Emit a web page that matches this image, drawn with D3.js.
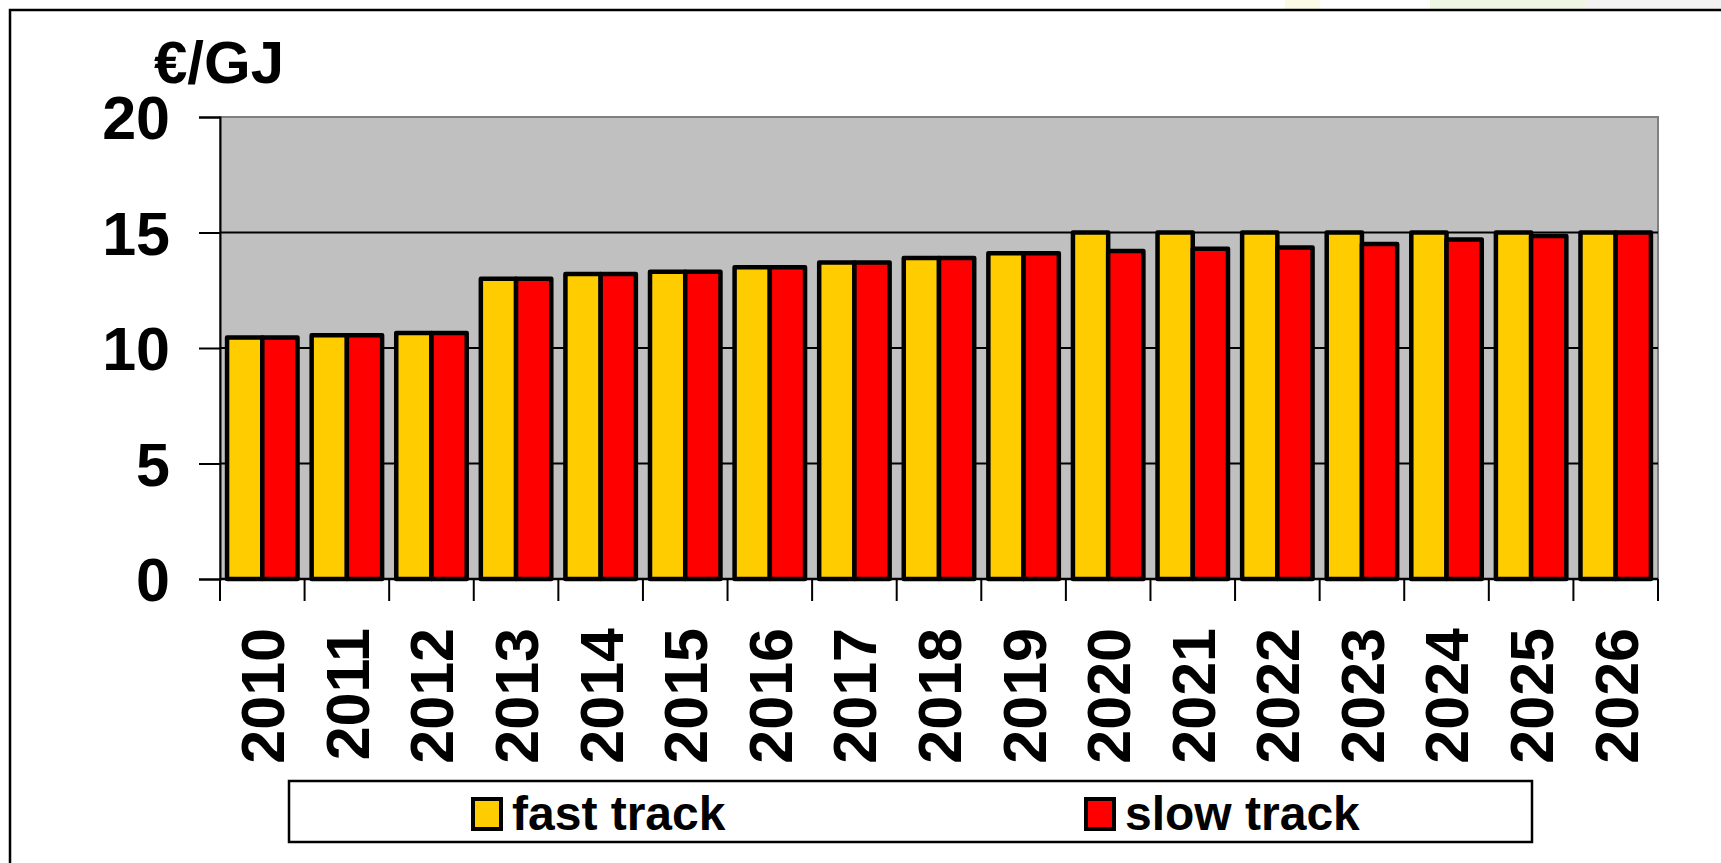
<!DOCTYPE html>
<html>
<head>
<meta charset="utf-8">
<script src="https://cdn.jsdelivr.net/npm/d3@7"></script>
<style>
  body { margin: 0; background: #fff; }
  text { font-family: "Liberation Sans", Arial, sans-serif; font-weight: bold; fill: #000; }
</style>
</head>
<body>
<script>
var years     = ['2010','2011','2012','2013','2014','2015','2016','2017','2018',
                 '2019','2020','2021','2022','2023','2024','2025','2026'];
var fastTrack = [10.45,10.55,10.65,13.0,13.2,13.3,13.5,13.7,13.9,14.1,15,15,15,15,15,15,15];
var slowTrack = [10.45,10.55,10.65,13.0,13.2,13.3,13.5,13.7,13.9,14.1,14.2,14.3,14.35,14.5,14.7,14.85,15];
var yTicks    = [0,5,10,15,20];
var seriesNames  = ['fast track','slow track'];
var seriesColors = ['#FFCC00','#FF0000'];

var svg = d3.select('body').append('svg')
            .attr('width',1721)
            .attr('height',863);

// plot area box (window.top is reserved, so prefixed names)
var plotLeft = 220, plotRight = 1658, plotTop = 117, plotBottom = 579;

var x = d3.scaleBand().domain(years).range([plotLeft,plotRight])
          .paddingInner(0.167).paddingOuter(0.0835);
var xSub = d3.scaleBand().domain(seriesNames).range([0,x.bandwidth()]);
var y = d3.scaleLinear().domain([0,20]).range([plotBottom,plotTop]);

render(svg);

///////////////////////////////////////////////////////////////////////////////
///////////////////////////      Visualization      ///////////////////////////
///////////////////////////////////////////////////////////////////////////////

function drawFrame(svg){
  // faint slide background peeking above the frame
  svg.append('rect').attr('x',1285).attr('y',0).attr('width',35).attr('height',9).attr('fill','#fafae6');
  svg.append('rect').attr('x',1430).attr('y',0).attr('width',155).attr('height',9).attr('fill','#eef5e2');
  svg.append('rect').attr('x',1585).attr('y',0).attr('width',136).attr('height',9).attr('fill','#f2f2f2');

  svg.append('rect')
     .attr('x',10).attr('y',10)
     .attr('width',1760).attr('height',900)
     .attr('fill','#fff')
     .attr('stroke','#000')
     .attr('stroke-width',2.5);
}

function drawPlotArea(svg){
  svg.append('rect')
     .attr('x',plotLeft).attr('y',plotTop)
     .attr('width',plotRight-plotLeft).attr('height',plotBottom-plotTop)
     .attr('fill','#C0C0C0')
     .attr('stroke','#808080')
     .attr('stroke-width',2);

  svg.selectAll('line.grid').data(yTicks.filter(function(d){return d>0 && d<20}))
     .enter().append('line')
     .attr('class','grid')
     .attr('x1',plotLeft).attr('x2',plotRight)
     .attr('y1',function(d){return y(d)})
     .attr('y2',function(d){return y(d)})
     .attr('stroke','#000')
     .attr('stroke-width',2);
}

function drawBars(svg){
  var groups = svg.selectAll('g.year').data(years)
                  .enter().append('g')
                  .attr('class','year')
                  .attr('transform',function(d){return 'translate('+x(d)+',0)'});

  groups.selectAll('rect')
        .data(function(d,i){return [fastTrack[i],slowTrack[i]]})
        .enter().append('rect')
        .attr('x',function(d,j){return xSub(seriesNames[j])})
        .attr('width',xSub.bandwidth())
        .attr('y',function(d){return y(d)})
        .attr('height',function(d){return y(0)-y(d)})
        .attr('fill',function(d,j){return seriesColors[j]})
        .attr('stroke','#000')
        .attr('stroke-width',4.5)
        .attr('stroke-linejoin','round');
}

function drawAxes(svg){
  var yAxis = d3.axisLeft(y).tickValues(yTicks).tickSize(21).tickPadding(30);
  var gy = svg.append('g').attr('transform','translate('+plotLeft+',0)').call(yAxis);
  gy.select('.domain').attr('stroke','#000').attr('stroke-width',2);
  gy.selectAll('.tick line').attr('stroke','#000').attr('stroke-width',2);
  gy.selectAll('.tick text')
    .attr('font-family',null).attr('font-size',null)
    .style('font-size','61px')
    .attr('dy','0.36em')
    .attr('x',-50);

  // x axis line and ticks between categories
  svg.append('line')
     .attr('x1',plotLeft).attr('x2',plotRight)
     .attr('y1',plotBottom).attr('y2',plotBottom)
     .attr('stroke','#000').attr('stroke-width',2.5);

  var bounds = d3.range(years.length+1).map(function(i){return plotLeft + i*x.step()});
  svg.selectAll('line.xtick').data(bounds)
     .enter().append('line')
     .attr('class','xtick')
     .attr('x1',function(d){return d}).attr('x2',function(d){return d})
     .attr('y1',plotBottom).attr('y2',plotBottom+22)
     .attr('stroke','#000').attr('stroke-width',2);

  svg.selectAll('text.xlab').data(years)
     .enter().append('text')
     .attr('class','xlab')
     .attr('transform',function(d){return 'translate('+(x(d)+x.bandwidth()/2)+',628) rotate(-90)'})
     .attr('text-anchor','end')
     .attr('dy','0.36em')
     .style('font-size','61px')
     .text(function(d){return d});

  svg.append('text')
     .attr('x',154).attr('y',83)
     .style('font-size','60px')
     .text('€/GJ');
}

function drawLegend(svg){
  var lx = 289, ly = 781, lw = 1243, lh = 61;
  svg.append('rect')
     .attr('x',lx).attr('y',ly)
     .attr('width',lw).attr('height',lh)
     .attr('fill','#fff')
     .attr('stroke','#000')
     .attr('stroke-width',2.5);

  var itemX = [471,1084];
  var items = svg.selectAll('g.legend').data(seriesNames)
                 .enter().append('g')
                 .attr('class','legend')
                 .attr('transform',function(d,i){return 'translate('+itemX[i]+',797)'});

  items.append('rect')
       .attr('x',2).attr('y',2)
       .attr('width',28).attr('height',30)
       .attr('fill',function(d,i){return seriesColors[i]})
       .attr('stroke','#000')
       .attr('stroke-width',4);

  items.append('text')
       .attr('x',41).attr('y',33)
       .style('font-size','48px')
       .text(function(d){return d});
}

function render(svg){
  drawFrame(svg);
  drawPlotArea(svg);
  drawBars(svg);
  drawAxes(svg);
  drawLegend(svg);
}
</script>
</body>
</html>
